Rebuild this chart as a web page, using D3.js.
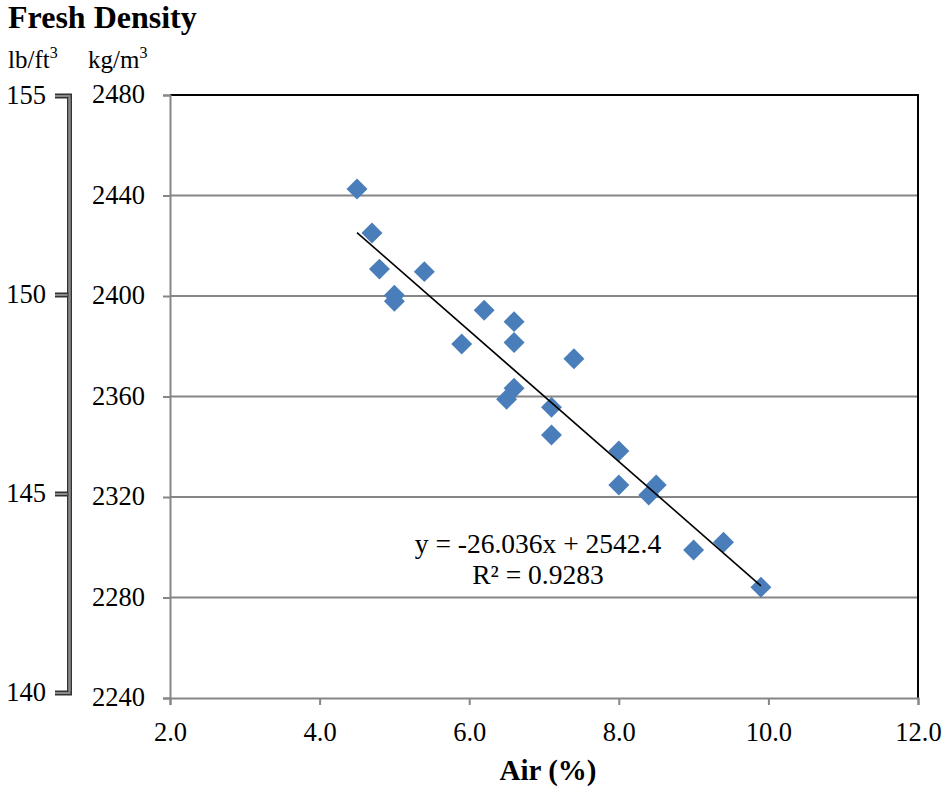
<!DOCTYPE html>
<html>
<head>
<meta charset="utf-8">
<script src="https://cdn.jsdelivr.net/npm/d3@7"></script>
<style>
  html, body { margin: 0; padding: 0; background: #fff; }
  svg { display: block; }
  svg text { font-family: "Liberation Serif", "Times New Roman", serif; fill: #000; }
</style>
</head>
<body>
<svg id="chart" width="943" height="787"></svg>
<script>
// Air content (%) vs fresh density (kg/m³)
const airPct = [4.5, 4.7, 4.8, 5.0, 5.0, 5.4, 5.9, 6.2, 6.6, 6.6, 7.4, 6.6, 6.5, 7.1, 7.1, 8.0, 8.0, 8.4, 8.5, 9.0, 9.4, 9.9];
const densityKg = [2442.6, 2425.1, 2410.7, 2400.3, 2397.9, 2409.7, 2380.9, 2394.3, 2389.8, 2381.5, 2375.0, 2363.3, 2358.9, 2355.7, 2344.7, 2338.3, 2324.8, 2320.8, 2324.8, 2298.9, 2302.0, 2284.1];

// Linear trend line
const trendSlope = -26.036;
const trendIntercept = 2542.4;
const trendR2 = 0.9283;

const xTicks = [2, 4, 6, 8, 10, 12];
const yTicksKg = [2240, 2280, 2320, 2360, 2400, 2440, 2480];
const yTicksLb = [140, 145, 150, 155];

const svg = d3.select("#chart");
const plot = { left: 170, right: 918, top: 95, bottom: 698 };
const labelSize = 26.5;

const x = d3.scaleLinear().domain([2, 12]).range([plot.left, plot.right]);
const y = d3.scaleLinear().domain([2240, 2480]).range([plot.bottom, plot.top]);
const yLb = d3.scaleLinear().domain([140, 155]).range([693, 96]);

const gridColor = "#868686";

// Horizontal gridlines
svg.append("g").selectAll("line")
  .data(yTicksKg.filter(d => d !== 2240 && d !== 2480))
  .join("line")
  .attr("x1", plot.left).attr("x2", plot.right)
  .attr("y1", d => y(d)).attr("y2", d => y(d))
  .attr("stroke", gridColor).attr("stroke-width", 2);

// Plot area border (top and right)
svg.append("path")
  .attr("d", `M${plot.left},${plot.top}H${plot.right}V${plot.bottom}`)
  .attr("fill", "none").attr("stroke", "#000").attr("stroke-width", 2);

// Y axis (kg/m³)
const yAxis = d3.axisLeft(y).tickValues(yTicksKg).tickSize(7).tickPadding(18).tickFormat(d3.format("d"));
const gy = svg.append("g").attr("transform", `translate(${plot.left},0)`).call(yAxis)
  .attr("font-family", null).attr("font-size", labelSize);
gy.select(".domain").attr("stroke", gridColor).attr("stroke-width", 2);
gy.selectAll(".tick line").attr("stroke", gridColor).attr("stroke-width", 2);
gy.selectAll(".tick text").attr("dy", "0.3em");

// X axis (Air %)
const xAxis = d3.axisBottom(x).tickValues(xTicks).tickSize(7).tickPadding(17).tickFormat(d3.format(".1f"));
const gx = svg.append("g").attr("transform", `translate(0,${plot.bottom})`).call(xAxis)
  .attr("font-family", null).attr("font-size", labelSize);
gx.select(".domain").attr("stroke", gridColor).attr("stroke-width", 2);
gx.selectAll(".tick line").attr("stroke", gridColor).attr("stroke-width", 2);

// Secondary scale (lb/ft³)
const barX = 69.5;
const lbAxisPath = `M55,${yLb(155)}H${barX}V${yLb(140)}H55`;
svg.append("path").attr("d", lbAxisPath)
  .attr("fill", "none").attr("stroke", "#333").attr("stroke-width", 5);
svg.append("path").attr("d", lbAxisPath)
  .attr("fill", "none").attr("stroke", "#8a8a8a").attr("stroke-width", 2);
const midTicks = yTicksLb.filter(d => d !== 140 && d !== 155);
svg.append("g").selectAll("line").data(midTicks).join("line")
  .attr("x1", 55).attr("x2", barX).attr("y1", d => yLb(d)).attr("y2", d => yLb(d))
  .attr("stroke", "#333").attr("stroke-width", 5);
svg.append("g").selectAll("line").data(midTicks).join("line")
  .attr("x1", 55).attr("x2", barX - 2).attr("y1", d => yLb(d)).attr("y2", d => yLb(d))
  .attr("stroke", "#8a8a8a").attr("stroke-width", 2);
svg.append("path").attr("d", `M${barX},${yLb(155) + 2}V${yLb(140) - 2}`)
  .attr("stroke", "#8a8a8a").attr("stroke-width", 2);
svg.append("g").selectAll("text").data(yTicksLb).join("text")
  .attr("x", 46).attr("y", d => yLb(d)).attr("dy", "0.3em")
  .attr("text-anchor", "end").attr("font-size", labelSize).text(d => d);

// Data points (diamonds)
const diamond = d3.symbol().type(d3.symbolSquare).size(220);
svg.append("g").selectAll("path").data(airPct.map((a, i) => [a, densityKg[i]]))
  .join("path")
  .attr("d", diamond)
  .attr("transform", d => `translate(${x(d[0])},${y(d[1])}) rotate(45)`)
  .attr("fill", "#4a7ebb");

// Trend line across the data range
const xMin = d3.min(airPct), xMax = d3.max(airPct);
svg.append("line")
  .attr("x1", x(xMin)).attr("y1", y(trendSlope * xMin + trendIntercept))
  .attr("x2", x(xMax)).attr("y2", y(trendSlope * xMax + trendIntercept))
  .attr("stroke", "#000").attr("stroke-width", 1.6);

// Equation label
svg.append("text").attr("x", 538).attr("y", 553).attr("text-anchor", "middle")
  .attr("font-size", 27.5).text(`y = ${trendSlope}x + ${trendIntercept}`);
svg.append("text").attr("x", 538).attr("y", 584).attr("text-anchor", "middle")
  .attr("font-size", 27.5).text(`R² = ${trendR2}`);

// Titles
svg.append("text").attr("x", 8).attr("y", 28).attr("font-size", 32)
  .attr("font-weight", "bold").text("Fresh Density");
const lb = svg.append("text").attr("x", 8).attr("y", 68).attr("font-size", 25);
lb.append("tspan").text("lb/ft");
lb.append("tspan").attr("font-size", 16).attr("dy", -10).text("3");
const kg = svg.append("text").attr("x", 88).attr("y", 68).attr("font-size", 25);
kg.append("tspan").text("kg/m");
kg.append("tspan").attr("font-size", 16).attr("dy", -10).text("3");

svg.append("text").attr("x", 548).attr("y", 780).attr("text-anchor", "middle")
  .attr("font-size", 29).attr("font-weight", "bold").text("Air (%)");
</script>
</body>
</html>
